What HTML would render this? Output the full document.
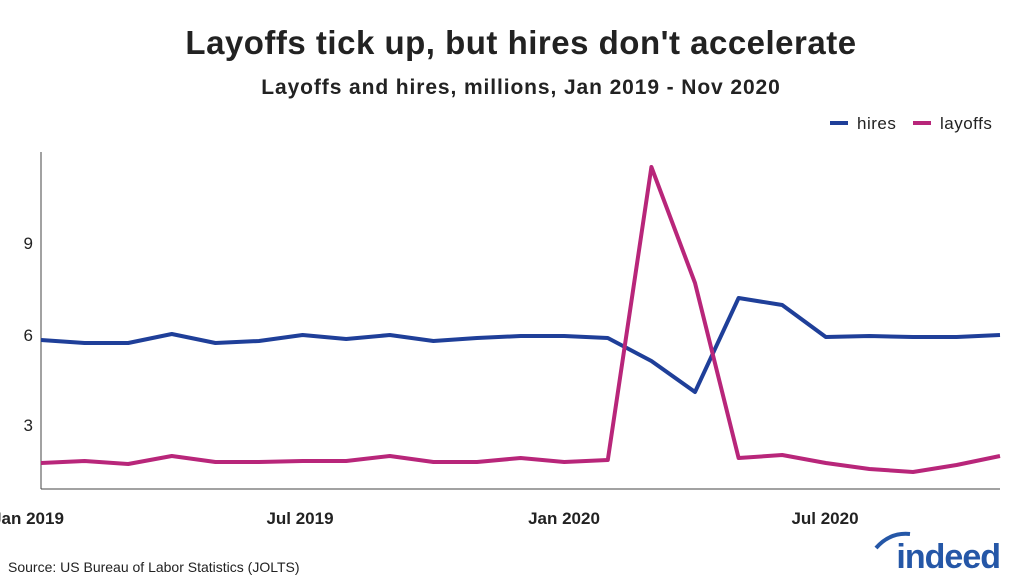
<!DOCTYPE html>
<html><head><meta charset="utf-8"><style>
body{margin:0;background:#fff;width:1024px;height:582px;overflow:hidden;font-family:"Liberation Sans",sans-serif;}
</style></head><body>
<svg width="1024" height="582" xmlns="http://www.w3.org/2000/svg" font-family="Liberation Sans, sans-serif">
<text x="521" y="54" text-anchor="middle" font-size="33" font-weight="bold" fill="#222" letter-spacing="0.5">Layoffs tick up, but hires don't accelerate</text>
<text x="521" y="94" text-anchor="middle" font-size="21" font-weight="bold" fill="#222" letter-spacing="0.9">Layoffs and hires, millions, Jan 2019 - Nov 2020</text>
<line x1="830" y1="123" x2="848" y2="123" stroke="#1f3f99" stroke-width="4"/>
<text x="857" y="129" font-size="17" fill="#222" letter-spacing="0.5">hires</text>
<line x1="913" y1="123" x2="931" y2="123" stroke="#b8267a" stroke-width="4"/>
<text x="940" y="129" font-size="17" fill="#222" letter-spacing="0.5">layoffs</text>
<line x1="41" y1="152" x2="41" y2="489" stroke="#444" stroke-width="1"/>
<line x1="41" y1="489" x2="1000" y2="489" stroke="#444" stroke-width="1"/>
<g font-size="17" fill="#222" text-anchor="end">
<text x="33" y="249">9</text><text x="33" y="341">6</text><text x="33" y="431">3</text>
</g>
<g font-size="17" font-weight="bold" fill="#222" text-anchor="middle">
<text x="28" y="524">Jan 2019</text><text x="300" y="524">Jul 2019</text><text x="564" y="524">Jan 2020</text><text x="825" y="524">Jul 2020</text>
</g>
<polyline fill="none" stroke="#1f3f99" stroke-width="4" stroke-linejoin="round" points="41,340 84.6,343 128.2,343 171.8,334 215.4,343 259,341 302.6,335 346.2,339 389.8,335 433.4,341 477,338 520.6,336 564.2,336 607.8,338 651.4,361 695,392 738.6,298 782.2,305 825.8,337 869.4,336 913,337 956.6,337 1000,335"/>
<polyline fill="none" stroke="#b8267a" stroke-width="4" stroke-linejoin="round" points="41,463 84.6,461 128.2,464 171.8,456 215.4,462 259,462 302.6,461 346.2,461 389.8,456 433.4,462 477,462 520.6,458 564.2,462 607.8,460 651.4,167 695,283 738.6,458 782.2,455 825.8,463 869.4,469 913,472 956.6,465 1000,456"/>
<text x="8" y="572" font-size="14" fill="#222">Source: US Bureau of Labor Statistics (JOLTS)</text>
<text x="1000" y="568" text-anchor="end" font-size="34" font-weight="bold" fill="#2557a7" letter-spacing="-1">indeed</text>
<path d="M876 548 Q890 532 910 534" stroke="#2557a7" stroke-width="4" fill="none"/>
</svg>
</body></html>
